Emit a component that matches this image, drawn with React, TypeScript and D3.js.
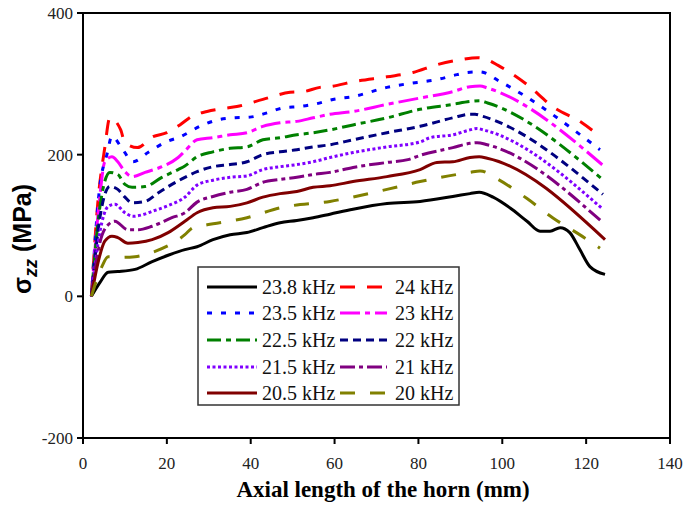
import React from "react";
import * as d3 from "d3";

const xTicks = [0, 20, 40, 60, 80, 100, 120, 140];
const yTicks = [-200, 0, 200, 400];

const s238: [number, number][] = [[2,0],[4.1,20],[6,34],[8.3,35],[12.4,38],[16.5,49],[20.3,58],[24.3,66],[27.2,70],[31,80],[35.1,87],[39.1,90],[42.9,97],[47,104],[51,107],[54.9,111],[58.9,116],[64.4,123],[72.5,131],[80.4,134],[88.2,141],[92.3,145],[94.5,147],[97.8,140],[101.8,125],[105.9,106],[109,92],[111.4,92],[113.8,97],[116.1,90],[118.5,66],[120.9,42],[124.5,31]];
const s24: [number, number][] = [[2,0],[3.5,130],[5.2,210],[6.4,252],[9,235],[10,217],[13,210],[16.5,225],[20,231],[23.1,242],[26.2,255],[29.6,261],[33.2,265],[36.7,268],[42.9,278],[49.4,288],[52.5,289],[56.5,295],[58.9,296],[64.4,303],[72.5,310],[78.7,316],[84.4,327],[89.9,334],[94.2,337],[96,335],[99,326],[105.9,299],[112,268],[119,245],[123.5,225]];
const s235: [number, number][] = [[2,0],[4,155],[5.7,200],[6.9,226],[9.3,209],[11.9,190],[15.5,203],[19.8,218],[23.1,225],[27.9,240],[32,249],[35.8,252],[39.8,253],[43.9,259],[47.7,266],[51.8,268],[55.8,272],[59.6,278],[64.4,282],[72.5,295],[79.7,302],[84.4,306],[89.2,313],[91.6,316],[94.7,317],[99.5,303],[123.3,207]];
const s23: [number, number][] = [[2,0],[4,140],[5.2,190],[6.9,197],[8.3,190],[10,176],[11.7,169],[14.8,175],[18.8,183],[22.7,196],[24.3,205],[27.2,221],[31,224],[35.1,228],[39.1,231],[42.9,240],[47,245],[51,247],[54.9,252],[58.9,257],[64.4,261],[72.5,271],[80.4,280],[88.2,289],[92.3,296],[94.7,297],[96.5,294],[124,185]];
const s225: [number, number][] = [[2,0],[4,125],[6.4,175],[8.3,172],[10,158],[11.7,154],[14.8,155],[18.8,168],[22.7,179],[24.3,184],[27.2,197],[31,204],[35.1,209],[39.1,211],[42.9,221],[47,224],[51,228],[54.9,231],[58.9,235],[64.4,242],[72.5,252],[80.4,264],[88.2,271],[92.3,275],[94.7,276],[96.5,273],[123.5,167]];
const s22: [number, number][] = [[2,0],[4,110],[6.4,155],[8.3,151],[10,140],[11.7,132],[14.8,134],[17.9,146],[21.2,158],[24.3,168],[27.2,176],[31,183],[35.1,186],[39.1,190],[42.9,200],[47,204],[51,207],[54.9,211],[58.9,214],[64.4,221],[72.5,231],[80.4,240],[88.2,252],[92.3,257],[93.5,257],[95.4,254],[124,144]];
const s215: [number, number][] = [[2,0],[4,90],[6,127],[7.6,130],[10,118],[11.9,113],[14.1,115],[16.5,120],[20.3,128],[24.3,140],[27.2,157],[31,164],[35.1,168],[39.1,170],[42.9,179],[47,183],[51,186],[54.9,190],[58.9,196],[64.4,203],[72.5,211],[80.4,218],[82.8,224],[88.2,228],[92.3,235],[94,237],[95.5,235],[124,123]];
const s21: [number, number][] = [[2,0],[4,75],[6,101],[7.6,106],[10.7,94],[13.1,94],[16.5,99],[21.2,111],[24.3,118],[27.2,133],[31,141],[35.1,147],[39.1,151],[42.9,161],[47,165],[51,168],[54.9,172],[58.9,175],[64.4,182],[72.5,189],[77.5,193],[80.4,199],[88.2,210],[92.3,216],[94,217],[96.4,214],[124,104]];
const s205: [number, number][] = [[2,0],[3.6,48],[5.2,78],[6.9,85],[8.3,83],[10.7,75],[13.1,76],[16.5,80],[20.3,90],[24.3,106],[27.2,118],[31,125],[35.1,127],[39.1,132],[42.9,140],[47,145],[51,148],[54.9,154],[58.9,156],[64.4,162],[72.5,169],[80.4,179],[84.4,189],[88.2,190],[92.3,196],[94.5,197],[96.4,195],[124.5,80]];
const s20: [number, number][] = [[2,0],[4.5,42],[6,56],[9.3,55],[12.4,56],[16.5,62],[24.3,87],[26.2,97],[29.6,101],[39.1,111],[47,125],[58.9,134],[72.5,151],[80.4,162],[92.3,175],[94.7,177],[99,165],[105.9,138],[112,111],[119,85],[123.3,68]];

const seriesNames = ["23.8 kHz", "24 kHz", "23.5 kHz", "23 kHz", "22.5 kHz", "22 kHz", "21.5 kHz", "21 kHz", "20.5 kHz", "20 kHz"];
const seriesData = [s238, s24, s235, s23, s225, s22, s215, s21, s205, s20];
const seriesColors = ["#000000", "#ff0000", "#0000ff", "#ff00ff", "#008000", "#000080", "#8000ff", "#800080", "#800000", "#808000"];
const seriesDash = ["none", "15,12", "5,9", "20,5,5,5", "14,5,5,5", "8,5", "3,2.5", "15,4,4,4", "none", "15,15"];

const W = 685, H = 505;
const L = 83, R = 670, T = 13, B = 438;

export default function App() {
  const x = d3.scaleLinear().domain([0, 140]).range([L, R]);
  const y = d3.scaleLinear().domain([-200, 400]).range([B, T]);
  const line = d3.line<[number, number]>().x(d => x(d[0])).y(d => y(d[1])).curve(d3.curveMonotoneX);
  const serif = "'Liberation Serif', 'Times New Roman', serif";
  const sans = "'Liberation Sans', Arial, sans-serif";

  const legX = 198, legY = 267, legW = 261, legH = 138;
  const rowY = [287, 313, 340, 367, 393];
  const colLine = [[207, 257], [340, 387]];
  const colText = [262, 395];

  return (
    <svg width={W} height={H} style={{ position: "absolute", left: 0, top: 0, background: "#fff" }}>
      <defs>
        <clipPath id="plotclip"><rect x={L} y={T} width={R - L} height={B - T} /></clipPath>
      </defs>
      <g clipPath="url(#plotclip)">
        {seriesData.map((d, i) => (
          <path key={i} d={line(d) || ""} fill="none" stroke={seriesColors[i]} strokeWidth={3}
            strokeDasharray={seriesDash[i]} strokeLinejoin="round" />
        ))}
      </g>
      <rect x={L} y={T} width={R - L} height={B - T} fill="none" stroke="#000" strokeWidth={2} />
      {xTicks.map(t => (
        <g key={"x" + t}>
          <line x1={x(t)} x2={x(t)} y1={B} y2={B + 6} stroke="#000" strokeWidth={2} />
          <text x={x(t)} y={469} textAnchor="middle" fontFamily={serif} fontSize={17} fill="#222">{t}</text>
        </g>
      ))}
      {yTicks.map(t => (
        <g key={"y" + t}>
          <line x1={L - 6} x2={L} y1={y(t)} y2={y(t)} stroke="#000" strokeWidth={2} />
          <text x={73} y={y(t) + 6} textAnchor="end" fontFamily={serif} fontSize={17} fill="#222">{t}</text>
        </g>
      ))}
      <text x={383} y={497} textAnchor="middle" fontFamily={serif} fontWeight="bold" fontSize={23} fill="#000">
        Axial length of the horn (mm)
      </text>
      <text transform={`translate(31,239) rotate(-90)`} textAnchor="middle" fontFamily={sans} fontWeight="bold" fontSize={25} fill="#000">
        σ<tspan fontSize={18} fontStyle="italic" dy={6}>zz</tspan><tspan dy={-6}> (MPa)</tspan>
      </text>
      <rect x={legX} y={legY} width={legW} height={legH} fill="#fff" stroke="#333" strokeWidth={1.5} />
      {seriesNames.map((n, i) => {
        const row = Math.floor(i / 2), col = i % 2;
        const yy = rowY[row];
        return (
          <g key={"l" + i}>
            <line x1={colLine[col][0]} x2={colLine[col][1]} y1={yy} y2={yy} stroke={seriesColors[i]} strokeWidth={3} strokeDasharray={seriesDash[i]} />
            <text x={colText[col]} y={yy + 7} fontFamily={serif} fontSize={20} fill="#111">{n}</text>
          </g>
        );
      })}
    </svg>
  );
}
